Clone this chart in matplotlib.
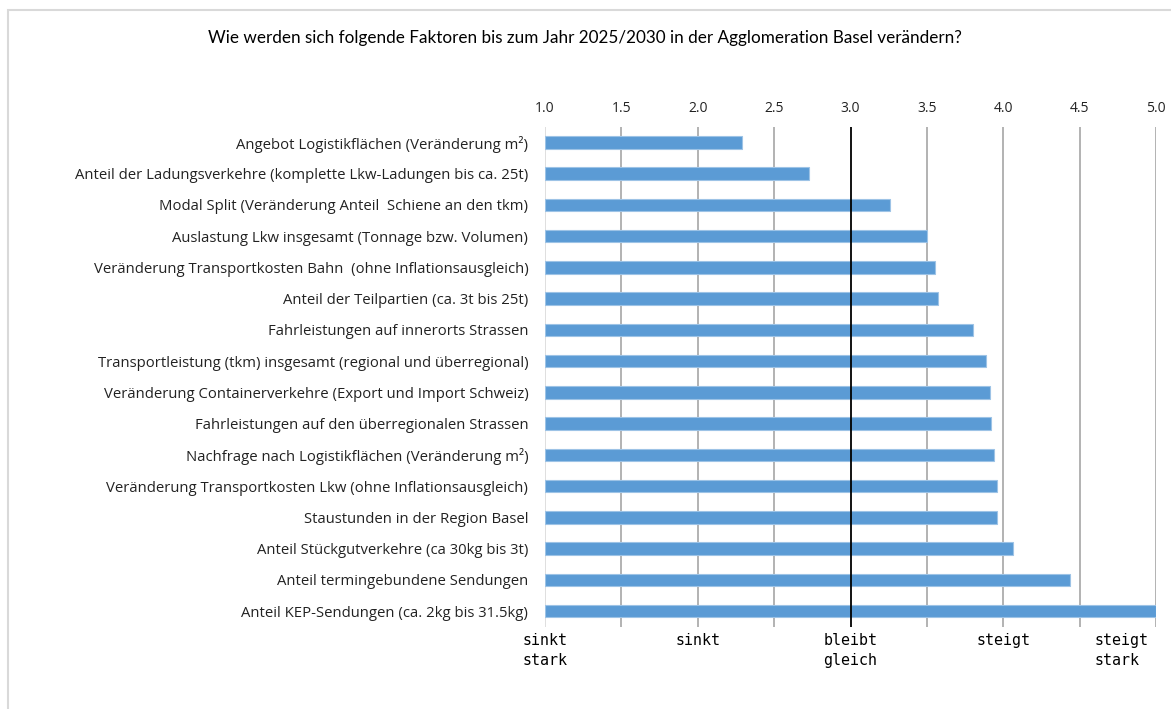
import matplotlib
matplotlib.use("Agg")
import matplotlib.pyplot as plt
from matplotlib.patches import Rectangle
from matplotlib.transforms import blended_transform_factory, offset_copy

categories = [
    "Angebot Logistikflächen (Veränderung m²)",
    "Anteil der Ladungsverkehre (komplette Lkw-Ladungen bis ca. 25t)",
    "Modal Split (Veränderung Anteil  Schiene an den tkm)",
    "Auslastung Lkw insgesamt (Tonnage bzw. Volumen)",
    "Veränderung Transportkosten Bahn  (ohne Inflationsausgleich)",
    "Anteil der Teilpartien (ca. 3t bis 25t)",
    "Fahrleistungen auf innerorts Strassen",
    "Transportleistung (tkm) insgesamt (regional und überregional)",
    "Veränderung Containerverkehre (Export und Import Schweiz)",
    "Fahrleistungen auf den überregionalen Strassen",
    "Nachfrage nach Logistikflächen (Veränderung m²)",
    "Veränderung Transportkosten Lkw (ohne Inflationsausgleich)",
    "Staustunden in der Region Basel",
    "Anteil Stückgutverkehre (ca 30kg bis 3t)",
    "Anteil termingebundene Sendungen",
    "Anteil KEP-Sendungen (ca. 2kg bis 31.5kg)",
]
values = [2.29, 2.73, 3.26, 3.50, 3.55, 3.57, 3.80, 3.89, 3.915, 3.92,
          3.94, 3.96, 3.96, 4.065, 4.44, 5.0]

top_ticks = [1.0, 1.5, 2.0, 2.5, 3.0, 3.5, 4.0, 4.5, 5.0]
scale_positions = [1.0, 2.0, 3.0, 4.0, 5.0]
scale_labels = ["sinkt\nstark", "sinkt", "bleibt\ngleich", "steigt", "steigt\nstark"]
title = "Wie werden sich folgende Faktoren bis zum Jahr 2025/2030 in der Agglomeration Basel verändern?"

W, H = 1171, 709
fig = plt.figure(figsize=(W / 100, H / 100), dpi=100)
fig.patch.set_facecolor("white")

# chart border
fig.patches.append(Rectangle((8 / W, -0.1), 1.2, 1 - 10 / H + 0.1, transform=fig.transFigure,
                             fill=False, edgecolor="#d9d9d9", linewidth=1.5))

left, right = 545 / W, 1156 / W
top, bottom = 1 - 126.7 / H, 1 - 626.7 / H
ax = fig.add_axes([left, bottom, right - left, top - bottom])

y = list(range(len(categories)))
base = top_ticks[0]
ax.barh(y, [v - base for v in values], left=base, height=0.4, color="#5b9bd5",
        edgecolor="#9dc3e6", linewidth=0.8, zorder=3)

ax.set_xlim(top_ticks[0], top_ticks[-1])
ax.set_ylim(len(categories) - 0.5, -0.5)

for t in top_ticks:
    if t == 3.0:
        ax.axvline(t, color="black", linewidth=1.3, zorder=4)
    elif t == top_ticks[0]:
        ax.axvline(t, color="#d9d9d9", linewidth=1.2, zorder=2)
    else:
        ax.axvline(t, color="#a6a6a6", linewidth=1.2, zorder=2)

ax.xaxis.tick_top()
ax.set_xticks(top_ticks)
ax.set_xticklabels([f"{t:.1f}" for t in top_ticks], fontsize=10, family="Open Sans", color="#222222")
ax.tick_params(axis="x", length=0, pad=8)
ax.set_yticks(y)
ax.set_yticklabels(categories, fontsize=10.7, family="Open Sans", color="#222222")
ax.tick_params(axis="y", length=0, pad=12)
for s in ax.spines.values():
    s.set_visible(False)

tr = blended_transform_factory(ax.transData, ax.transAxes)
for pos, lab in zip(scale_positions, scale_labels):
    if pos == scale_positions[-1]:
        t2 = offset_copy(tr, fig=fig, x=-8, y=-6, units="dots")
        ha = "right"
    else:
        t2 = offset_copy(tr, fig=fig, x=0, y=-6, units="dots")
        ha = "center"
    ax.text(pos, 0, lab, transform=t2, ha=ha, va="top", fontsize=10.8,
            family="DejaVu Sans Mono", color="black", linespacing=1.45,
            multialignment="left")

fig.text(585 / W, 1 - 38 / H, title, ha="center", va="center", fontsize=12.3,
         family="Lato", color="black")

fig.savefig("out.png", dpi=100, facecolor="white")
